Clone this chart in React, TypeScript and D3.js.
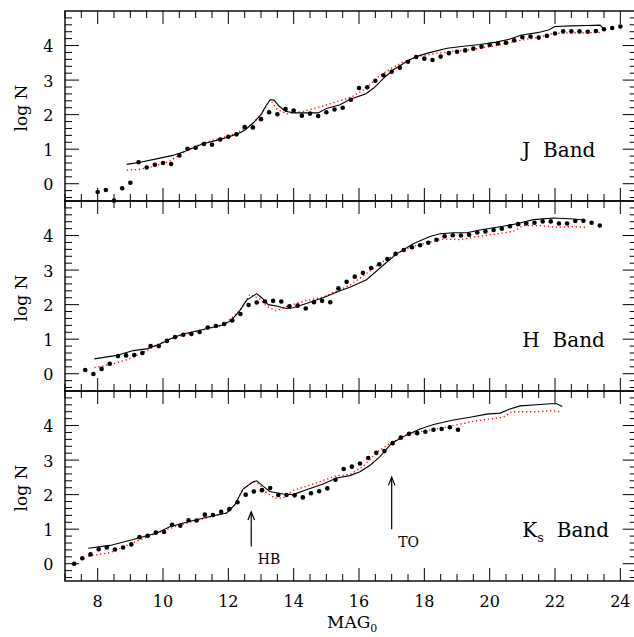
import React from "react";
import * as d3 from "d3";

// ---------- data ----------
const jPoints: [number, number][] = [
  [8.0, -0.24], [8.25, -0.18], [8.5, -0.49], [8.75, -0.13], [9.0, 0.03], [9.25, 0.62], [9.5, 0.47],
  [9.75, 0.55], [10.0, 0.6], [10.25, 0.57], [10.5, 0.82], [10.75, 1.01], [11.0, 1.04], [11.25, 1.15],
  [11.5, 1.13], [11.75, 1.28], [12.0, 1.36], [12.25, 1.43], [12.5, 1.64], [12.75, 1.63], [13.0, 1.87],
  [13.25, 2.07], [13.5, 2.01], [13.75, 2.16], [14.0, 2.12], [14.25, 1.97], [14.5, 2.03], [14.75, 1.96],
  [15.0, 2.07], [15.25, 2.15], [15.5, 2.2], [15.75, 2.43], [16.0, 2.77], [16.25, 2.79], [16.5, 2.98],
  [16.75, 3.14], [17.0, 3.24], [17.25, 3.36], [17.5, 3.53], [17.75, 3.67], [18.0, 3.62], [18.25, 3.58],
  [18.5, 3.68], [18.75, 3.78], [19.0, 3.82], [19.25, 3.86], [19.5, 3.91], [19.75, 3.97], [20.0, 4.02],
  [20.25, 4.06], [20.5, 4.08], [20.75, 4.15], [21.0, 4.24], [21.25, 4.26], [21.5, 4.23], [21.75, 4.28],
  [22.0, 4.35], [22.25, 4.41], [22.5, 4.41], [22.75, 4.41], [23.0, 4.4], [23.25, 4.42], [23.5, 4.47],
  [23.75, 4.51], [24.0, 4.55],
];
const jModelSolid: [number, number][] = [
  [8.89, 0.56], [9.3, 0.62], [9.8, 0.72], [10.3, 0.82], [10.7, 0.95], [11.2, 1.15], [11.7, 1.27],
  [12.0, 1.35], [12.3, 1.45], [12.5, 1.55], [12.75, 1.75], [13.0, 2.0], [13.15, 2.25], [13.28, 2.43],
  [13.4, 2.42], [13.55, 2.25], [13.75, 2.1], [14.0, 2.05], [14.4, 2.05], [14.75, 2.05], [15.0, 2.18],
  [15.4, 2.28], [15.75, 2.45], [16.2, 2.6], [16.45, 2.77], [16.75, 3.05], [17.05, 3.3], [17.45, 3.53],
  [17.75, 3.68], [18.1, 3.78], [18.7, 3.92], [19.2, 3.98], [19.7, 4.03], [20.2, 4.1], [20.6, 4.18],
  [20.95, 4.3], [21.5, 4.38], [21.8, 4.45], [22.0, 4.55], [22.5, 4.57], [23.0, 4.58], [23.38, 4.59],
  [23.45, 4.52], [23.48, 4.46],
];
const jModelDotted: [number, number][] = [
  [8.89, 0.39], [9.3, 0.42], [9.7, 0.5], [10.2, 0.65], [10.7, 0.95], [11.2, 1.17], [11.7, 1.3],
  [12.2, 1.45], [12.5, 1.6], [12.75, 1.75], [13.0, 2.0], [13.28, 2.43], [13.5, 2.15], [13.8, 2.02],
  [14.3, 2.1], [14.9, 2.25], [15.4, 2.4], [15.75, 2.5], [16.2, 2.75], [16.6, 3.1], [17.0, 3.35],
  [17.4, 3.55], [17.9, 3.7], [18.4, 3.78], [18.8, 3.82], [19.3, 3.87], [19.7, 3.92], [20.2, 4.0],
  [20.7, 4.1], [21.1, 4.18], [21.45, 4.23], [21.95, 4.35], [22.5, 4.37], [23.0, 4.37], [23.4, 4.38],
];

const hPoints: [number, number][] = [
  [7.62, 0.11], [7.87, -0.01], [8.12, 0.14], [8.37, 0.29], [8.62, 0.51], [8.87, 0.53], [9.12, 0.54],
  [9.37, 0.6], [9.62, 0.8], [9.87, 0.8], [10.12, 0.95], [10.37, 1.06], [10.62, 1.13], [10.87, 1.15],
  [11.12, 1.21], [11.37, 1.34], [11.62, 1.38], [11.87, 1.44], [12.12, 1.54], [12.37, 1.73], [12.62, 1.99],
  [12.87, 2.06], [13.12, 2.09], [13.37, 2.11], [13.62, 2.09], [13.87, 1.95], [14.12, 1.97], [14.37, 1.89],
  [14.62, 2.07], [14.87, 2.11], [15.12, 2.07], [15.37, 2.47], [15.62, 2.66], [15.87, 2.81], [16.12, 2.92],
  [16.37, 3.06], [16.62, 3.17], [16.87, 3.32], [17.12, 3.47], [17.37, 3.58], [17.62, 3.66], [17.87, 3.72],
  [18.12, 3.79], [18.37, 3.88], [18.62, 3.98], [18.87, 4.01], [19.12, 4.0], [19.37, 4.02], [19.62, 4.09],
  [19.87, 4.12], [20.12, 4.16], [20.37, 4.2], [20.62, 4.27], [20.87, 4.33], [21.12, 4.35], [21.37, 4.37],
  [21.62, 4.41], [21.87, 4.41], [22.12, 4.35], [22.37, 4.35], [22.62, 4.42], [22.87, 4.43], [23.12, 4.37],
  [23.37, 4.29],
];
const hModelSolid: [number, number][] = [
  [7.9, 0.43], [8.58, 0.53], [9.09, 0.67], [9.5, 0.72], [9.91, 0.86], [10.32, 1.05], [10.62, 1.15],
  [11.13, 1.26], [11.85, 1.42], [12.1, 1.55], [12.36, 1.84], [12.56, 2.13], [12.87, 2.32], [13.02, 2.2],
  [13.22, 2.0], [13.47, 1.96], [13.78, 1.89], [13.98, 1.91], [14.39, 2.03], [14.9, 2.2], [15.42, 2.4],
  [15.72, 2.5], [16.23, 2.72], [16.74, 3.14], [17.15, 3.47], [17.66, 3.76], [18.17, 3.97], [18.48, 4.05],
  [18.89, 4.08], [19.3, 4.08], [19.7, 4.16], [20.22, 4.24], [20.83, 4.34], [21.34, 4.46], [21.95, 4.51],
  [22.56, 4.48], [22.87, 4.45],
];
const hModelDotted: [number, number][] = [
  [7.9, 0.18], [8.38, 0.26], [8.95, 0.42], [9.5, 0.67], [10.11, 0.98], [11.13, 1.25], [11.85, 1.41],
  [12.36, 1.83], [12.66, 2.3], [12.97, 2.16], [13.17, 1.95], [13.47, 1.82], [13.78, 1.94], [14.18, 2.07],
  [14.9, 2.22], [15.72, 2.56], [16.23, 2.9], [16.64, 3.19], [17.05, 3.42], [17.56, 3.66], [18.17, 3.81],
  [18.58, 3.9], [19.09, 3.88], [19.5, 3.95], [20.22, 4.05], [20.72, 4.12], [21.03, 4.29], [21.54, 4.29],
  [22.05, 4.24], [22.56, 4.26], [22.92, 4.24],
];

const kPoints: [number, number][] = [
  [7.28, 0.0], [7.53, 0.16], [7.78, 0.27], [8.03, 0.42], [8.28, 0.47], [8.53, 0.41], [8.78, 0.47],
  [9.03, 0.56], [9.28, 0.77], [9.53, 0.81], [9.78, 0.9], [10.03, 0.92], [10.28, 1.13], [10.53, 1.1],
  [10.78, 1.26], [11.03, 1.25], [11.28, 1.42], [11.53, 1.41], [11.78, 1.5], [12.03, 1.58], [12.28, 1.78],
  [12.53, 2.0], [12.78, 2.09], [13.03, 2.13], [13.28, 2.19], [13.53, 1.99], [13.78, 1.99], [14.03, 1.98],
  [14.28, 1.92], [14.53, 2.04], [14.78, 2.1], [15.03, 2.18], [15.28, 2.43], [15.53, 2.74], [15.78, 2.81],
  [16.03, 2.9], [16.28, 3.06], [16.53, 3.21], [16.78, 3.26], [17.03, 3.49], [17.28, 3.65], [17.53, 3.76],
  [17.78, 3.78], [18.03, 3.82], [18.28, 3.88], [18.53, 3.9], [18.78, 3.95], [19.03, 3.88],
];
const kModelSolid: [number, number][] = [
  [7.71, 0.45], [8.38, 0.53], [9.09, 0.7], [9.81, 0.89], [10.21, 1.07], [10.83, 1.23], [11.54, 1.39],
  [11.95, 1.47], [12.2, 1.71], [12.45, 2.16], [12.76, 2.37], [12.87, 2.4], [13.07, 2.24], [13.27, 2.09],
  [13.68, 2.02], [13.98, 2.0], [14.39, 2.14], [14.9, 2.31], [15.31, 2.48], [15.72, 2.55], [16.03, 2.66],
  [16.34, 2.85], [16.64, 3.1], [17.0, 3.49], [17.46, 3.73], [17.87, 3.9], [18.28, 4.03], [18.89, 4.16],
  [19.4, 4.24], [19.91, 4.33], [20.32, 4.36], [20.62, 4.48], [20.93, 4.57], [21.44, 4.6], [21.85, 4.63],
  [22.05, 4.63], [22.22, 4.55],
];
const kModelDotted: [number, number][] = [
  [7.71, 0.22], [8.38, 0.32], [9.09, 0.61], [9.81, 0.89], [10.42, 1.09], [11.13, 1.28], [11.95, 1.47],
  [12.2, 1.71], [12.45, 2.16], [12.76, 2.38], [12.96, 2.29], [13.17, 2.05], [13.43, 1.9], [13.68, 1.9],
  [13.98, 2.12], [14.7, 2.34], [15.31, 2.55], [15.72, 2.58], [16.13, 2.82], [16.54, 3.22], [16.95, 3.49],
  [17.46, 3.73], [17.87, 3.83], [18.48, 3.92], [18.99, 4.02], [19.5, 4.12], [20.01, 4.19], [20.42, 4.24],
  [20.67, 4.4], [21.13, 4.4], [21.44, 4.4], [21.9, 4.43], [22.15, 4.4],
];

const xTickLabels = [8, 10, 12, 14, 16, 18, 20, 22, 24];
const yTickLabels = [0, 1, 2, 3, 4];
const bandNames = ["J", "H", "K"];
const bandSubs = ["", "", "s"];
const annotations = [
  { text: "HB", mag: 12.7, from: 0.5, to: 1.5 },
  { text: "TO", mag: 17.0, from: 1.0, to: 2.5 },
];

// ---------- layout ----------
const W = 634;
const H = 637;
const LEFT = 65;
const RIGHT = 636.7;
const PANEL_TOP = 11;
const PANEL_H = 190;
const FONT = "'DejaVu Serif', serif";

const x = d3.scaleLinear().domain([7, 24.5]).range([LEFT, RIGHT]);

export default function App() {
  const panels = [
    { pts: jPoints, solid: jModelSolid, dotted: jModelDotted },
    { pts: hPoints, solid: hModelSolid, dotted: hModelDotted },
    { pts: kPoints, solid: kModelSolid, dotted: kModelDotted },
  ];
  const xTicks = d3.range(7, 24.5001, 0.5);
  const yTicks = d3.range(-0.4, 4.9, 0.2).map((v) => Math.round(v * 10) / 10);

  return (
    <svg
      width={W}
      height={H}
      style={{ position: "absolute", left: 0, top: 0, background: "#fff" }}
      fontFamily={FONT}
    >
      <rect x={0} y={0} width={W} height={H} fill="#fff" />
      {panels.map((p, i) => {
        const top = PANEL_TOP + i * PANEL_H;
        const bottom = top + PANEL_H;
        const y = d3.scaleLinear().domain([-0.5, 5]).range([bottom, top]);
        const line = d3
          .line<[number, number]>()
          .x((d) => x(d[0]))
          .y((d) => y(d[1]));
        return (
          <g key={i}>
            <defs>
              <clipPath id={`clip${i}`}>
                <rect x={LEFT} y={top} width={RIGHT - LEFT} height={PANEL_H} />
              </clipPath>
            </defs>
            {/* ticks */}
            {xTicks.map((t) => {
              const major = Math.abs(t % 2) < 1e-6;
              const len = major ? 13 : 7;
              return (
                <g key={`xt${t}`} stroke="#000" strokeWidth={1}>
                  <line x1={x(t)} x2={x(t)} y1={bottom} y2={bottom - len} />
                  <line x1={x(t)} x2={x(t)} y1={top} y2={top + len} />
                </g>
              );
            })}
            {yTicks.map((t) => {
              const major = Math.abs(t - Math.round(t)) < 1e-6;
              const len = major ? 14 : 7;
              return (
                <g key={`yt${t}`} stroke="#000" strokeWidth={1}>
                  <line x1={LEFT} x2={LEFT + len} y1={y(t)} y2={y(t)} />
                  <line x1={RIGHT} x2={RIGHT - len} y1={y(t)} y2={y(t)} />
                </g>
              );
            })}
            {yTickLabels.map((t) => (
              <text key={`yl${t}`} x={53.5} y={y(t) + 6.5} fontSize={16} textAnchor="end" fill="#000">
                {t}
              </text>
            ))}
            <text
              transform={`translate(27,${(top + bottom) / 2 + 2}) rotate(-90)`}
              fontSize={17}
              textAnchor="middle"
              fill="#000"
            >
              log N
            </text>
            {/* frame */}
            <rect x={LEFT} y={top} width={RIGHT - LEFT} height={PANEL_H} fill="none" stroke="#000" strokeWidth={1.4} />
            {/* models */}
            <g clipPath={`url(#clip${i})`}>
              <path d={line(p.dotted) || ""} fill="none" stroke="#ff0000" strokeWidth={1.3} strokeDasharray="1.3 2.7" />
              <path d={line(p.solid) || ""} fill="none" stroke="#000" strokeWidth={1.1} />
            </g>
            {p.pts.map((d, k) => (
              <circle key={k} cx={x(d[0])} cy={y(d[1])} r={2.3} fill="#000" />
            ))}
            {/* band label */}
            <text x={x(21)} y={y(0.78)} fontSize={20} fill="#000" style={{ whiteSpace: "pre" }}>
              {bandNames[i]}
              {bandSubs[i] ? (
                <tspan fontSize={13} dy={5}>
                  {bandSubs[i]}
                </tspan>
              ) : null}
              <tspan dy={bandSubs[i] ? -5 : 0}>{"  Band"}</tspan>
            </text>
            {i === 2 &&
              annotations.map((a) => (
                <g key={a.text}>
                  <line x1={x(a.mag)} x2={x(a.mag)} y1={y(a.from)} y2={y(a.to)} stroke="#000" strokeWidth={1.2} />
                  <path
                    d={`M${x(a.mag) - 3.3},${y(a.to) + 8} L${x(a.mag)},${y(a.to)} L${x(a.mag) + 3.3},${y(a.to) + 8}`}
                    fill="none"
                    stroke="#000"
                    strokeWidth={1.2}
                  />
                  <text x={x(a.mag) + 6.5} y={y(a.from) + 17.5} fontSize={14} fill="#000">
                    {a.text}
                  </text>
                </g>
              ))}
            {i === 2 &&
              xTickLabels.map((t) => (
                <text key={`xl${t}`} x={x(t)} y={bottom + 26} fontSize={16} textAnchor="middle" fill="#000">
                  {t}
                </text>
              ))}
          </g>
        );
      })}
      <text x={327} y={628} fontSize={17} fill="#000">
        MAG
        <tspan fontSize={11} dy={3.5}>
          0
        </tspan>
      </text>
    </svg>
  );
}
